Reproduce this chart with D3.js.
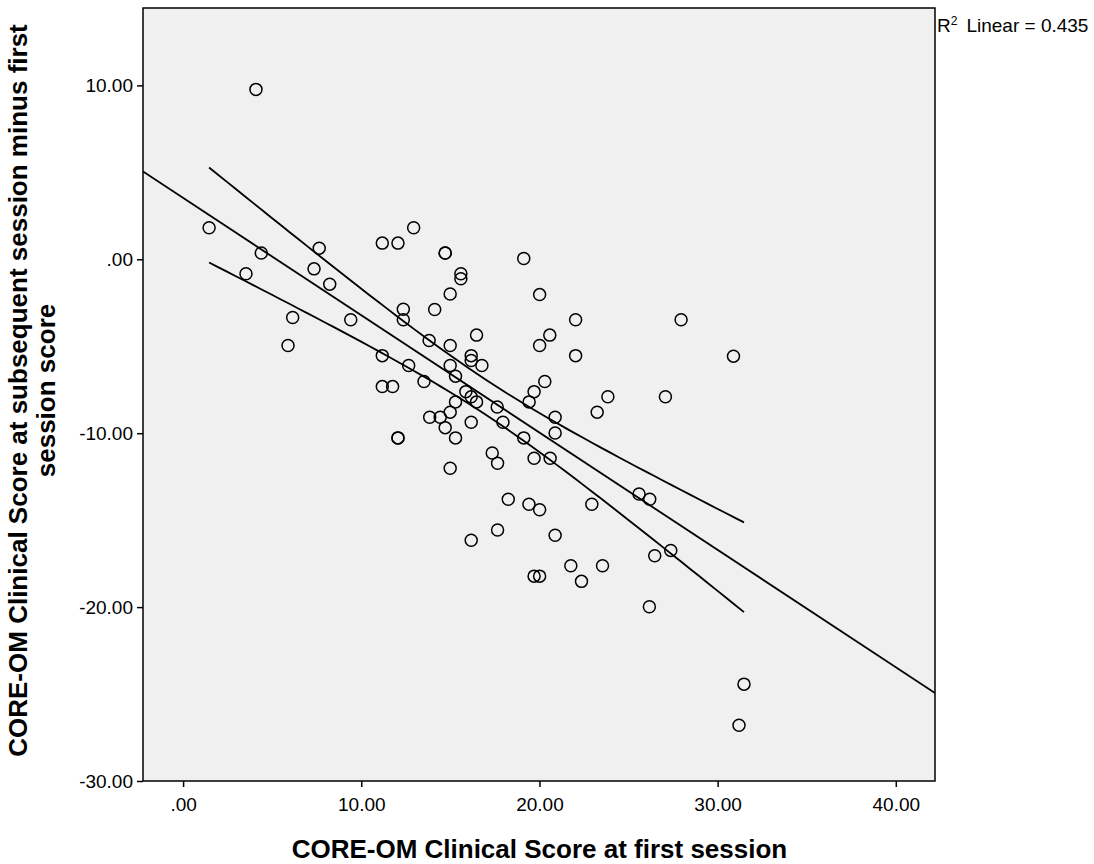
<!DOCTYPE html>
<html>
<head>
<meta charset="utf-8">
<script src="https://cdn.jsdelivr.net/npm/d3@7"></script>
<style>
  body { margin: 0; background: #fff; }
  svg { font-family: Arial, "Liberation Sans", sans-serif; }
  .axis path, .axis line { stroke: #000; stroke-width: 1.5; }
  .axis text { font-size: 19px; fill: #000; }
</style>
</head>
<body>
<div id="chart"></div>
<script>
// CORE-OM score at first session (x) and change at subsequent session (y)
const firstScore = [
  4.09, 1.46, 4.39, 3.53, 6.15, 5.89, 7.64, 7.35, 8.23, 9.41,
  11.18, 12.06, 12.94, 12.36, 12.36, 11.18, 11.18, 11.76, 12.06, 12.06,
  12.66, 13.52, 13.81, 14.12, 14.71, 14.71, 15.59, 15.59, 14.99, 16.47,
  14.99, 16.17, 16.17, 16.77, 14.99, 15.29, 15.87, 16.17, 16.47, 15.29,
  14.99, 17.63, 13.84, 14.43, 14.71, 16.17, 17.95, 15.29, 19.12, 20.01,
  22.03, 20.01, 20.58, 22.03, 20.30, 19.70, 19.42, 20.88, 20.88, 19.12,
  17.35, 17.65, 19.70, 20.60, 14.99, 27.95, 23.84, 27.07, 23.24, 30.89,
  18.25, 19.41, 20.01, 22.94, 25.59, 26.19, 17.65, 16.17, 20.88, 27.37,
  26.47, 19.70, 20.01, 21.76, 23.54, 22.36, 26.17, 31.48, 31.20
];
const changeScore = [
  9.77, 1.81, 0.36, -0.83, -3.35, -4.96, 0.64, -0.55, -1.43, -3.48,
  0.93, 0.93, 1.81, -2.87, -3.48, -5.54, -7.32, -7.32, -10.27, -10.27,
  -6.11, -7.03, -4.67, -2.89, 0.36, 0.36, -0.83, -1.12, -2.00, -4.36,
  -4.96, -5.54, -5.82, -6.11, -6.11, -6.72, -7.61, -7.91, -8.20, -8.20,
  -8.79, -8.49, -9.08, -9.08, -9.68, -9.37, -9.37, -10.27, 0.05, -2.03,
  -3.48, -4.96, -4.36, -5.54, -7.03, -7.61, -8.20, -9.08, -9.99, -10.27,
  -11.14, -11.73, -11.44, -11.44, -12.02, -3.48, -7.90, -7.90, -8.79, -5.57,
  -13.80, -14.09, -14.40, -14.09, -13.50, -13.80, -15.57, -16.16, -15.87, -16.74,
  -17.05, -18.22, -18.22, -17.62, -17.62, -18.52, -19.98, -24.43, -26.79
];
const xTicks = [0, 10, 20, 30, 40];
const yTicks = [10, 0, -10, -20, -30];
const xLabel = "CORE-OM Clinical Score at first session";
const yLabelLines = ["CORE-OM Clinical Score at subsequent session minus first", "session score"];
const rSquaredText = "0.435";
const tCrit = 1.99; // 95% t value, df = n - 2

const margin = {top: 8, right: 159, bottom: 83, left: 143},
    width = 1094 - margin.left - margin.right,
    height = 864 - margin.top - margin.bottom;

const data = firstScore.map((d, i) => ({x: d, y: changeScore[i]}));

// SPSS style tick labels: ".00", "10.00", "-10.00" (plain hyphen)
const fmt = v => v.toFixed(2).replace(/^(-?)0\./, "$1.");

const x = d3.scaleLinear().domain([-2.25, 42.2]).range([0, width]);
const y = d3.scaleLinear().domain([-30, 14.45]).range([height, 0]);

const svg = d3.select("#chart").append("svg")
    .attr("width", 1094)
    .attr("height", 864)
  .append("g")
    .attr("transform", "translate(" + margin.left + "," + margin.top + ")");

svg.append("defs").append("clipPath").attr("id", "plotClip")
  .append("rect").attr("width", width).attr("height", height);

// Plot background
svg.append("rect")
    .attr("width", width)
    .attr("height", height)
    .attr("fill", "#f0f0f0")
    .attr("stroke", "#000")
    .attr("stroke-width", 1.5);

// Linear fit and 95% CI of the mean
const n = data.length,
    mx = d3.mean(data, d => d.x),
    my = d3.mean(data, d => d.y),
    sxx = d3.sum(data, d => (d.x - mx) * (d.x - mx)),
    sxy = d3.sum(data, d => (d.x - mx) * (d.y - my)),
    slope = sxy / sxx,
    intercept = my - slope * mx,
    sse = d3.sum(data, d => Math.pow(d.y - (intercept + slope * d.x), 2)),
    se = Math.sqrt(sse / (n - 2));
const fit = v => intercept + slope * v;
const half = v => tCrit * se * Math.sqrt(1 / n + (v - mx) * (v - mx) / sxx);

const plot = svg.append("g").attr("clip-path", "url(#plotClip)");

const line = d3.line().x(d => x(d[0])).y(d => y(d[1]));
plot.append("path")
    .attr("d", line(x.domain().map(v => [v, fit(v)])))
    .attr("fill", "none").attr("stroke", "#000").attr("stroke-width", 1.8);

const [xMin, xMax] = d3.extent(data, d => d.x);
const xs = d3.range(0, 61).map(i => xMin + (xMax - xMin) * i / 60);
[1, -1].forEach(sgn => {
  plot.append("path")
      .attr("d", line(xs.map(v => [v, fit(v) + sgn * half(v)])))
      .attr("fill", "none").attr("stroke", "#000").attr("stroke-width", 1.8);
});

// Points
plot.selectAll("circle")
  .data(data)
  .enter().append("circle")
    .attr("cx", d => x(d.x))
    .attr("cy", d => y(d.y))
    .attr("r", 6)
    .attr("fill", "none")
    .attr("stroke", "#000")
    .attr("stroke-width", 1.5);

// Axes
svg.append("g")
    .attr("class", "axis")
    .attr("transform", "translate(0," + height + ")")
    .call(d3.axisBottom(x).tickValues(xTicks).tickFormat(fmt).tickSizeInner(6).tickSizeOuter(0).tickPadding(11))
    .select(".domain").remove();
svg.append("g")
    .attr("class", "axis")
    .call(d3.axisLeft(y).tickValues(yTicks).tickFormat(fmt).tickSizeInner(6).tickSizeOuter(0).tickPadding(4))
    .select(".domain").remove();

// Axis titles
svg.append("text")
    .attr("x", x(20))
    .attr("y", height + 77)
    .attr("text-anchor", "middle")
    .style("font-size", "26px")
    .style("font-weight", "bold")
    .text(xLabel);

yLabelLines.forEach((t, i) => {
  svg.append("text")
      .attr("transform", "translate(" + (-116 + i * 28) + "," + (height / 2 - 4) + ") rotate(-90)")
      .attr("text-anchor", "middle")
      .style("font-size", "26px")
      .style("font-weight", "bold")
      .text(t);
});

// R squared note
const note = svg.append("text")
    .attr("x", width + 2)
    .attr("y", 24)
    .style("font-size", "19px");
note.append("tspan").text("R");
note.append("tspan").attr("dy", -7).style("font-size", "12px").text("2");
note.append("tspan").attr("dy", 7).attr("dx", 9).text("Linear = " + rSquaredText);
</script>
</body>
</html>
